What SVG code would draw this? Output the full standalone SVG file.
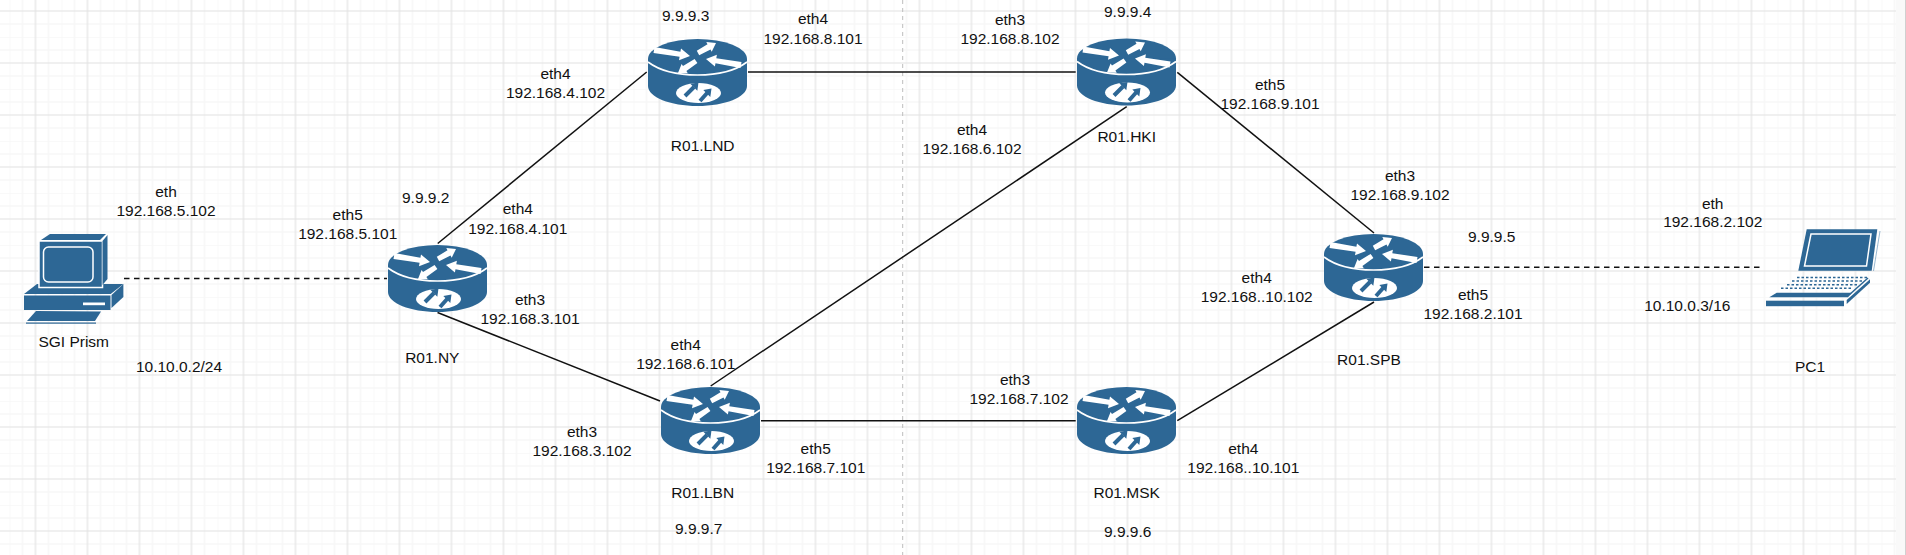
<svg xmlns="http://www.w3.org/2000/svg" xmlns:xlink="http://www.w3.org/1999/xlink" width="1906" height="555" viewBox="0 0 1906 555">
<style>
text{font-family:"Liberation Sans",Arial,sans-serif;font-size:15.5px;fill:#111;text-anchor:middle}
.c{stroke:#111;stroke-width:1.5;fill:none}
.d{stroke-dasharray:5.5 4.5}
.b{fill:#2d6795}
.w{fill:#fff}
</style>
<defs>
<pattern id="grid" patternUnits="userSpaceOnUse" x="9.5" y="-15" width="52" height="52">
<path d="M0 0V52M13 0V52M39 0V52M0 0H52M0 13H52M0 39H52" stroke="#f7f7f7" stroke-width="1.6" fill="none"/>
<path d="M26 0V52M0 26H52" stroke="#e2e2e2" stroke-width="1.2" fill="none"/>
</pattern>
<g id="router">
<ellipse class="b" cx="49.5" cy="20" rx="49.5" ry="20"/>
<path class="b" d="M0 20V47C0 58 22 67 49.5 67S99 58 99 47V20Z"/>
<path d="M0 23C12 32 30 36 49.5 36S87 32 99 23" fill="none" stroke="#fff" stroke-width="1.6"/>
<polygon class="w" points="6.5,8 32.4,12.8 33,9.4 42,17 31,21.2 31.6,17.8 5.5,14"/>
<polygon class="w" points="48.8,11.8 59.5,5.3 58.3,3.1 68,4 63.7,12.7 62.5,10.5 51.2,16.2"/>
<polygon class="w" points="93.5,23 68.3,19.2 68.9,15.8 58,20 66.9,27.6 67.5,24.2 92.5,29"/>
<polygon class="w" points="46.6,19.9 35,27.1 33.6,25 30,34 39.8,34.2 38.4,32.1 49.4,24.1"/>
<ellipse class="w" cx="50.5" cy="54" rx="22.5" ry="10"/>
<path d="M37 57L46 48M52 62L60 53" stroke="#2d6795" stroke-width="4" fill="none"/>
<polygon class="b" points="49.3,51.7 42.3,44.7 50.5,43.5"/>
<polygon class="b" points="62.3,58 55.3,51 63.5,49.5"/>
</g>
</defs>
<rect width="1906" height="555" fill="#fff"/>
<rect width="1896" height="555" fill="url(#grid)"/>
<rect x="1896" width="9" height="555" fill="#f9f9f9"/>
<path d="M1905.5 0V555" stroke="#d0d0d0" stroke-width="1"/>
<path d="M902.7 0V555" stroke="#bdbdbd" stroke-width="1" stroke-dasharray="4 4"/>
<g id="connectors">
<path class="c" d="M437.7 243.5L646.7 72"/>
<path class="c" d="M748 72H1075.7"/>
<path class="c" d="M1177.3 72.3L1374 233"/>
<path class="c" d="M1374 302L1177.3 420.7"/>
<path class="c" d="M437.5 312.5L660 401"/>
<path class="c" d="M710.7 386L1126.7 106.7"/>
<path class="c" d="M761 420.7H1075.7"/>
<path class="c d" d="M124 278.5H387"/>
<path class="c d" d="M1424 267.3H1764"/>
</g>
<g id="SGI-Prism">
<path class="b" d="M24 294L37 284H123.4L110.7 294Z"/>
<rect class="b" x="24" y="295.5" width="86.5" height="14.5"/>
<rect class="w" x="83" y="302.5" width="22" height="2.7"/>
<polygon class="b" points="111.5,295 123.4,284 123.4,297 111.5,308"/>
<polygon class="b" points="27,321 36,311 101,311.5 95,321"/>
<rect class="b" x="26" y="322.5" width="70" height="1.2"/>
<rect class="b" x="39" y="241" width="63.5" height="46.5" stroke="#fff" stroke-width="1.5"/>
<polygon class="b" points="41,240 50,234 106,234 100,240"/>
<polygon class="b" points="102.5,241 107.5,235 107.5,279 102.5,285"/>
<rect class="b" x="43.5" y="247" width="49.5" height="35" rx="5" stroke="#fff" stroke-width="1.5"/>
<text x="73.7" y="346.7">SGI Prism</text>
</g>
<g id="PC1">
<polygon class="b" points="1806.7,229.3 1877.3,229.3 1871.7,270.7 1798.3,270.7"/>
<polygon class="b" points="1811,234 1871,234 1866.5,266 1804.5,266" stroke="#fff" stroke-width="1.5"/>
<path d="M1880 231L1873.5 271" stroke="#7fa6c4" stroke-width="0.8"/>
<path d="M1797 277.5H1868M1792 281H1864M1787 284.7H1859M1781 288.2H1853" stroke="#2d6795" stroke-width="1.6" stroke-dasharray="2.5 2" fill="none"/>
<polygon class="b" points="1769.3,297.3 1776.7,292.7 1852,292.7 1848,297.3"/>
<rect class="b" x="1766" y="300.7" width="78" height="5.5"/>
<polygon class="b" points="1846.7,300 1870,279.3 1870,282.7 1846.7,304"/>
<path d="M1849 295L1868 278" stroke="#2d6795" stroke-width="1.5"/>
<text x="1810" y="371.7">PC1</text>
</g>
<g id="R01-NY"><use xlink:href="#router" href="#router" x="388" y="245"/><text x="432.3" y="362.7">R01.NY</text><text x="425.7" y="203">9.9.9.2</text></g>
<g id="R01-LND"><use xlink:href="#router" href="#router" x="648" y="39"/><text x="702.7" y="150.7">R01.LND</text><text x="685.7" y="20.7">9.9.9.3</text></g>
<g id="R01-HKI"><use xlink:href="#router" href="#router" x="1077" y="38.5"/><text x="1126.7" y="142">R01.HKI</text><text x="1127.7" y="17.3">9.9.9.4</text></g>
<g id="R01-SPB"><use xlink:href="#router" href="#router" x="1324" y="234"/><text x="1369" y="364.7">R01.SPB</text><text x="1491.7" y="242">9.9.9.5</text></g>
<g id="R01-LBN"><use xlink:href="#router" href="#router" x="661" y="387"/><text x="702.7" y="498">R01.LBN</text><text x="698.7" y="534.3">9.9.9.7</text></g>
<g id="R01-MSK"><use xlink:href="#router" href="#router" x="1077" y="387"/><text x="1126.7" y="498">R01.MSK</text><text x="1127.7" y="536.7">9.9.9.6</text></g>
<g id="labels">
<text x="166" y="197">eth</text><text x="166" y="215.7">192.168.5.102</text>
<text x="179" y="372">10.10.0.2/24</text>
<text x="347.7" y="220">eth5</text><text x="347.7" y="239">192.168.5.101</text>
<text x="517.8" y="214">eth4</text><text x="517.8" y="234">192.168.4.101</text>
<text x="530" y="305">eth3</text><text x="530" y="324">192.168.3.101</text>
<text x="555.5" y="79">eth4</text><text x="555.5" y="98">192.168.4.102</text>
<text x="813" y="24">eth4</text><text x="813" y="43.7">192.168.8.101</text>
<text x="1010" y="25">eth3</text><text x="1010" y="44">192.168.8.102</text>
<text x="972" y="135">eth4</text><text x="972" y="154">192.168.6.102</text>
<text x="1270" y="90">eth5</text><text x="1270" y="108.7">192.168.9.101</text>
<text x="1400" y="180.5">eth3</text><text x="1400" y="200">192.168.9.102</text>
<text x="1712.7" y="209">eth</text><text x="1712.7" y="226.7">192.168.2.102</text>
<text x="1687.3" y="310.7">10.10.0.3/16</text>
<text x="1256.7" y="282.5">eth4</text><text x="1256.7" y="301.7">192.168..10.102</text>
<text x="1473" y="300">eth5</text><text x="1473" y="319.3">192.168.2.101</text>
<text x="685.7" y="350">eth4</text><text x="685.7" y="368.7">192.168.6.101</text>
<text x="582" y="437.3">eth3</text><text x="582" y="456">192.168.3.102</text>
<text x="815.7" y="454">eth5</text><text x="815.7" y="473.3">192.168.7.101</text>
<text x="1015" y="385">eth3</text><text x="1019" y="404">192.168.7.102</text>
<text x="1243.3" y="454">eth4</text><text x="1243.3" y="473.3">192.168..10.101</text>
</g>
</svg>
